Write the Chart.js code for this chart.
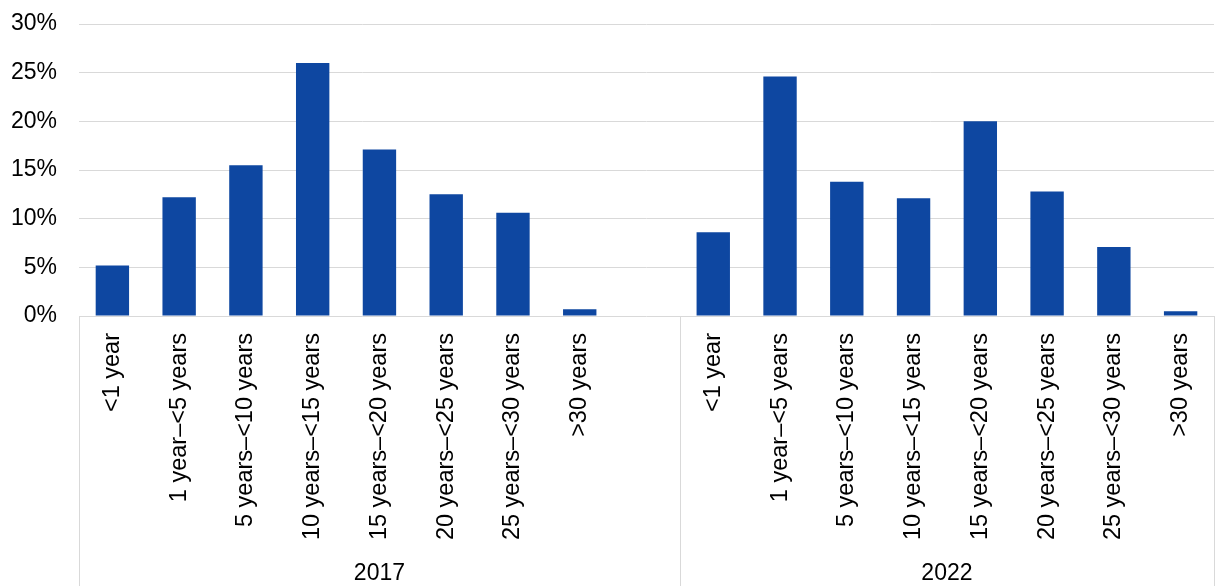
<!DOCTYPE html>
<html>
<head>
<meta charset="utf-8">
<script src="https://cdn.jsdelivr.net/npm/chart.js@4.4.1/dist/chart.umd.min.js"></script>
<style>
  html, body { margin: 0; padding: 0; background: #ffffff; }
  #wrap { width: 1218px; height: 586px; position: relative; }
</style>
</head>
<body>
<div id="wrap"><canvas id="chart"></canvas></div>
<script>
// Share of outstanding amount by remaining maturity band (%)
const periods = ['2017', '2022'];
const maturityBands = [
  '<1 year',
  '1 year\u2013<5 years',
  '5 years\u2013<10 years',
  '10 years\u2013<15 years',
  '15 years\u2013<20 years',
  '20 years\u2013<25 years',
  '25 years\u2013<30 years',
  '>30 years'
];
const share2017 = [5.2, 12.2, 15.5, 26.0, 17.1, 12.5, 10.6, 0.7];
const share2022 = [8.6, 24.6, 13.8, 12.1, 20.0, 12.8, 7.1, 0.5];
const yTickValues = [0, 5, 10, 15, 20, 25, 30];

// One blank slot after the 2017 block separates the two periods
const labels = [...maturityBands, '', ...maturityBands];
const values = [...share2017, null, ...share2022];
const groups = [
  { name: periods[0], from: 0, to: maturityBands.length },
  { name: periods[1], from: maturityBands.length + 1, to: labels.length - 1 }
];

const FONT = "'Liberation Sans', Arial, sans-serif";
const GRID = '#d9d9d9';

const groupAxisPlugin = {
  id: 'groupAxis',
  afterDraw(chart) {
    const { ctx, chartArea } = chart;
    const x = chart.scales.x;
    const step = (x.right - x.left) / labels.length;
    const bottom = chart.height;
    ctx.save();
    ctx.strokeStyle = GRID;
    ctx.lineWidth = 1;
    const edges = new Set();
    groups.forEach(g => {
      edges.add(x.getPixelForValue(g.from) - step / 2);
      edges.add(x.getPixelForValue(g.to) + step / 2);
    });
    edges.forEach(px => {
      const p = Math.round(px) + 0.5;
      ctx.beginPath();
      ctx.moveTo(p, chartArea.bottom);
      ctx.lineTo(p, bottom);
      ctx.stroke();
    });
    ctx.fillStyle = '#000000';
    ctx.font = '23px ' + FONT;
    ctx.textAlign = 'center';
    ctx.textBaseline = 'middle';
    groups.forEach(g => {
      const l = x.getPixelForValue(g.from) - step / 2;
      const r = x.getPixelForValue(g.to) + step / 2;
      ctx.fillText(g.name, (l + r) / 2, 574);
    });
    ctx.restore();
  }
};

new Chart(document.getElementById('chart'), {
  type: 'bar',
  data: {
    labels: labels,
    datasets: [{
      data: values,
      backgroundColor: '#0e47a1',
      borderWidth: 0,
      categoryPercentage: 1.0,
      barPercentage: 0.5
    }]
  },
  options: {
    responsive: true,
    maintainAspectRatio: false,
    animation: false,
    layout: { padding: { top: 24, right: 4, bottom: 0, left: 0 } },
    plugins: {
      legend: { display: false },
      tooltip: { enabled: false }
    },
    scales: {
      x: {
        grid: { display: false },
        border: { display: false },
        ticks: {
          autoSkip: false,
          minRotation: 90,
          maxRotation: 90,
          padding: 9,
          color: '#000000',
          font: { family: FONT, size: 23.5 }
        },
        afterFit(scale) {
          scale.height = 270;
          scale.paddingRight = 0;
        }
      },
      y: {
        min: 0,
        max: 30,
        afterBuildTicks(scale) {
          scale.ticks = yTickValues.map(v => ({ value: v }));
        },
        grid: { color: GRID, lineWidth: 1, drawTicks: false },
        border: { display: false },
        ticks: {
          padding: 22,
          color: '#000000',
          font: { family: FONT, size: 23 },
          callback: v => v + '%'
        },
        afterFit(scale) {
          scale.width = 79;
          scale.paddingTop = 0;
          scale.paddingBottom = 0;
        }
      }
    }
  },
  plugins: [groupAxisPlugin]
});
</script>
</body>
</html>
